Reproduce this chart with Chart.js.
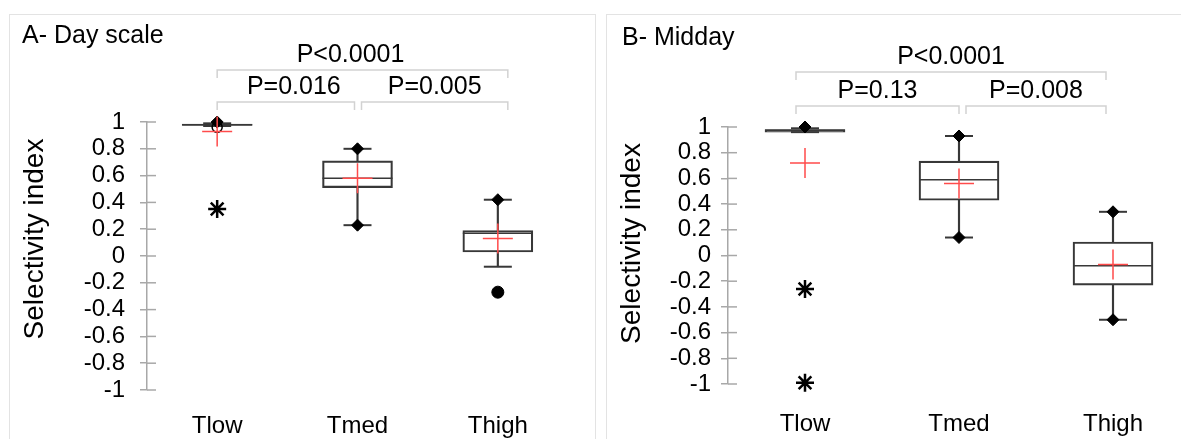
<!DOCTYPE html>
<html>
<head>
<meta charset="utf-8">
<script src="https://cdn.jsdelivr.net/npm/chart.js@4.4.1/dist/chart.umd.min.js"></script>
<style>
  body { margin: 0; background: #fff; overflow: hidden; width: 1181px; height: 439px; position: relative; }
  .panel { position: absolute; border: 1px solid #e3e3e3; background: #fff; }
  canvas { position: absolute; }
</style>
</head>
<body>
<div class="panel" style="left:9px;top:14px;width:585px;height:460px;"></div>
<div class="panel" style="left:606px;top:14px;width:600px;height:460px;"></div>
<canvas id="dayChart" style="left:10px;top:15px;" width="580" height="424"></canvas>
<canvas id="midChart" style="left:607px;top:15px;" width="583" height="424"></canvas>
<script>
// categories and axis
const categories = ['Tlow', 'Tmed', 'Thigh'];
const yMin = -1, yMax = 1, yStep = 0.2;
const yTitle = 'Selectivity index';

// A- Day scale
const dayQ1 = [0.975, 0.51, 0.03];
const dayMedian = [0.98, 0.58, 0.17];
const dayQ3 = [0.985, 0.71, 0.19];
const dayWhiskerLow = [0.97, 0.23, -0.08];
const dayWhiskerHigh = [0.99, 0.80, 0.42];
const dayMean = [0.93, 0.58, 0.13];
const dayMinMark = [null, 0.23, null];
const dayMaxMark = [1.0, 0.80, 0.42];
const dayStarCat = ['Tlow'];
const dayStarVal = [0.35];
const dayDotCat = ['Thigh'];
const dayDotVal = [-0.27];
const dayRingCat = ['Tlow'];
const dayRingVal = [0.96];
const dayPvals = ['P<0.0001', 'P=0.016', 'P=0.005'];

// B- Midday
const midQ1 = [0.96, 0.43, -0.23];
const midMedian = [0.975, 0.59, -0.08];
const midQ3 = [0.98, 0.735, 0.105];
const midWhiskerLow = [0.96, 0.14, -0.50];
const midWhiskerHigh = [0.99, 0.93, 0.34];
const midMean = [0.72, 0.56, -0.07];
const midMinMark = [null, 0.14, -0.50];
const midMaxMark = [1.0, 0.93, 0.34];
const midStarCat = ['Tlow', 'Tlow'];
const midStarVal = [-0.26, -0.99];
const midPvals = ['P<0.0001', 'P=0.13', 'P=0.008'];

const FONT = '"Liberation Sans", Arial, sans-serif';
const dark = '#383838';
const axisGrey = '#a8a8a8';
const red = '#ff4b4b';

function pts(cats, vals) {
  return cats.map((c, i) => ({ x: c, y: vals[i] }));
}

// titles, y title and p-value brackets
const annotate = {
  id: 'annotate',
  beforeDatasetsDraw(chart) {
    // inner half of the y tick marks
    const y = chart.scales.y, ctx = chart.ctx;
    ctx.save();
    ctx.strokeStyle = axisGrey;
    ctx.lineWidth = 1.5;
    y.ticks.forEach((t, i) => {
      const py = y.getPixelForTick(i);
      ctx.beginPath();
      ctx.moveTo(chart.chartArea.left, py);
      ctx.lineTo(chart.chartArea.left + 9, py);
      ctx.stroke();
    });
    ctx.restore();
  },
  afterDraw(chart) {
    const o = chart.options.plugins.annotate;
    const ctx = chart.ctx, x = chart.scales.x, area = chart.chartArea;
    ctx.save();
    ctx.fillStyle = '#000';
    ctx.textBaseline = 'middle';
    ctx.font = '25px ' + FONT;
    ctx.textAlign = 'left';
    ctx.fillText(o.title, o.titleX, o.titleY);

    ctx.save();
    ctx.translate(o.yTitleX, (area.top + area.bottom) / 2 + o.yTitleShift);
    ctx.rotate(-Math.PI / 2);
    ctx.textAlign = 'center';
    ctx.font = '28px ' + FONT;
    ctx.fillText(yTitle, 0, 0);
    ctx.restore();

    ctx.strokeStyle = '#d2d2d2';
    ctx.lineWidth = 1.5;
    ctx.textAlign = 'center';
    ctx.font = '25px ' + FONT;
    o.brackets.forEach(b => {
      const x1 = x.getPixelForValue(b.from) + b.dx1;
      const x2 = x.getPixelForValue(b.to) + b.dx2;
      const by = area.top - b.rise;
      ctx.beginPath();
      ctx.moveTo(x1, by + 8);
      ctx.lineTo(x1, by);
      ctx.lineTo(x2, by);
      ctx.lineTo(x2, by + 8);
      ctx.stroke();
      ctx.fillText(b.text, (x1 + x2) / 2 + b.tx, by - 15);
    });
    ctx.restore();
  }
};

function boxChart(id, d) {
  const barBase = { type: 'bar', grouped: false, borderSkipped: false };
  const pointBase = { type: 'line', showLine: false, clip: false };
  return new Chart(document.getElementById(id), {
    type: 'bar',
    data: {
      labels: categories,
      datasets: [
        Object.assign({}, pointBase, { data: d.mean, pointStyle: 'cross', pointRadius: 15, pointBorderWidth: 1.5, pointBorderColor: red, order: 0 }),
        Object.assign({}, pointBase, { data: d.maxMark, pointStyle: 'rectRot', pointRadius: 6, pointBackgroundColor: '#000', pointBorderColor: '#000', pointBorderWidth: 1, order: 1 }),
        Object.assign({}, pointBase, { data: d.minMark, pointStyle: 'rectRot', pointRadius: 6, pointBackgroundColor: '#000', pointBorderColor: '#000', pointBorderWidth: 1, order: 1 }),
        Object.assign({}, pointBase, { data: d.median, pointStyle: 'line', pointRadius: d.boxWidth / 2, pointBorderWidth: 1.5, pointBorderColor: dark, order: 2 }),
        Object.assign({}, pointBase, { data: d.whiskerHigh, pointStyle: 'line', pointRadius: 14, pointBorderWidth: 2, pointBorderColor: dark, order: 2 }),
        Object.assign({}, pointBase, { data: d.whiskerLow, pointStyle: 'line', pointRadius: 14, pointBorderWidth: 2, pointBorderColor: dark, order: 2 }),
        Object.assign({}, pointBase, { data: d.stars, pointStyle: 'star', pointRadius: 9, pointBorderWidth: 2.5, pointBorderColor: '#000', order: 1 }),
        Object.assign({}, pointBase, { data: d.dots, pointStyle: 'circle', pointRadius: 6, pointBackgroundColor: '#000', pointBorderColor: '#000', order: 1 }),
        Object.assign({}, pointBase, { data: d.rings, pointStyle: 'circle', pointRadius: 5, pointBackgroundColor: 'rgba(0,0,0,0)', pointBorderColor: '#000', pointBorderWidth: 1.5, order: 1 }),
        Object.assign({}, barBase, { data: categories.map((c, i) => [d.q1[i], d.q3[i]]), backgroundColor: 'rgba(255,255,255,0)', borderColor: dark, borderWidth: 1.5, barThickness: d.boxWidth, order: 3 }),
        Object.assign({}, barBase, { data: categories.map((c, i) => [d.whiskerLow[i], d.q1[i]]), backgroundColor: dark, borderWidth: 0, barThickness: 1.5, order: 4 }),
        Object.assign({}, barBase, { data: categories.map((c, i) => [d.q3[i], d.whiskerHigh[i]]), backgroundColor: dark, borderWidth: 0, barThickness: 1.5, order: 4 })
      ]
    },
    options: {
      responsive: false,
      animation: false,
      layout: { padding: d.padding, autoPadding: false },
      plugins: {
        legend: { display: false },
        tooltip: { enabled: false },
        annotate: d.annotate
      },
      scales: {
        x: {
          offset: true,
          grid: { display: false, drawTicks: false },
          border: { display: false },
          ticks: { color: '#000', font: { family: FONT, size: 24 }, padding: d.xPad },
          afterFit(s) { s.height = d.xHeight; s.paddingLeft = 0; s.paddingRight = 0; }
        },
        y: {
          min: yMin, max: yMax,
          grid: { drawOnChartArea: false, drawTicks: true, tickLength: 7, color: axisGrey, lineWidth: 1.5 },
          border: { display: true, color: axisGrey, width: 1.5 },
          ticks: {
            stepSize: yStep, autoSkip: false, color: '#000', padding: d.yPad,
            font: { family: FONT, size: 24, lineHeight: 1 },
            callback: v => String(Number(v.toFixed(1)))
          },
          afterFit(s) { s.width = d.yWidth; }
        }
      }
    },
    plugins: [annotate]
  });
}

boxChart('dayChart', {
  q1: dayQ1, median: dayMedian, q3: dayQ3,
  whiskerLow: dayWhiskerLow, whiskerHigh: dayWhiskerHigh,
  mean: dayMean, minMark: dayMinMark, maxMark: dayMaxMark,
  stars: pts(dayStarCat, dayStarVal), dots: pts(dayDotCat, dayDotVal), rings: pts(dayRingCat, dayRingVal),
  boxWidth: 70,
  padding: { top: 107, right: 22, left: 0, bottom: 0 },
  xHeight: 49, xPad: 22, yWidth: 137, yPad: 15,
  annotate: {
    title: 'A- Day scale', titleX: 12, titleY: 21,
    yTitleX: 25, yTitleShift: -17,
    brackets: [
      { from: 0, to: 2, dx1: 0, dx2: 10, rise: 52, text: dayPvals[0], tx: -12 },
      { from: 0, to: 1, dx1: 0, dx2: -3, rise: 20, text: dayPvals[1], tx: 8 },
      { from: 1, to: 2, dx1: 4, dx2: 10, rise: 20, text: dayPvals[2], tx: 0 }
    ]
  }
});

boxChart('midChart', {
  q1: midQ1, median: midMedian, q3: midQ3,
  whiskerLow: midWhiskerLow, whiskerHigh: midWhiskerHigh,
  mean: midMean, minMark: midMinMark, maxMark: midMaxMark,
  stars: pts(midStarCat, midStarVal), dots: [], rings: [],
  boxWidth: 80,
  padding: { top: 112, right: 0, left: 0, bottom: 0 },
  xHeight: 55, xPad: 26, yWidth: 121, yPad: 10,
  annotate: {
    title: 'B- Midday', titleX: 15, titleY: 23,
    yTitleX: 25, yTitleShift: -12,
    brackets: [
      { from: 0, to: 2, dx1: -9, dx2: -7, rise: 55, text: midPvals[0], tx: 0 },
      { from: 0, to: 1, dx1: -9, dx2: 0, rise: 21, text: midPvals[1], tx: 0 },
      { from: 1, to: 2, dx1: 7, dx2: -7, rise: 21, text: midPvals[2], tx: 0 }
    ]
  }
});
</script>
</body>
</html>
